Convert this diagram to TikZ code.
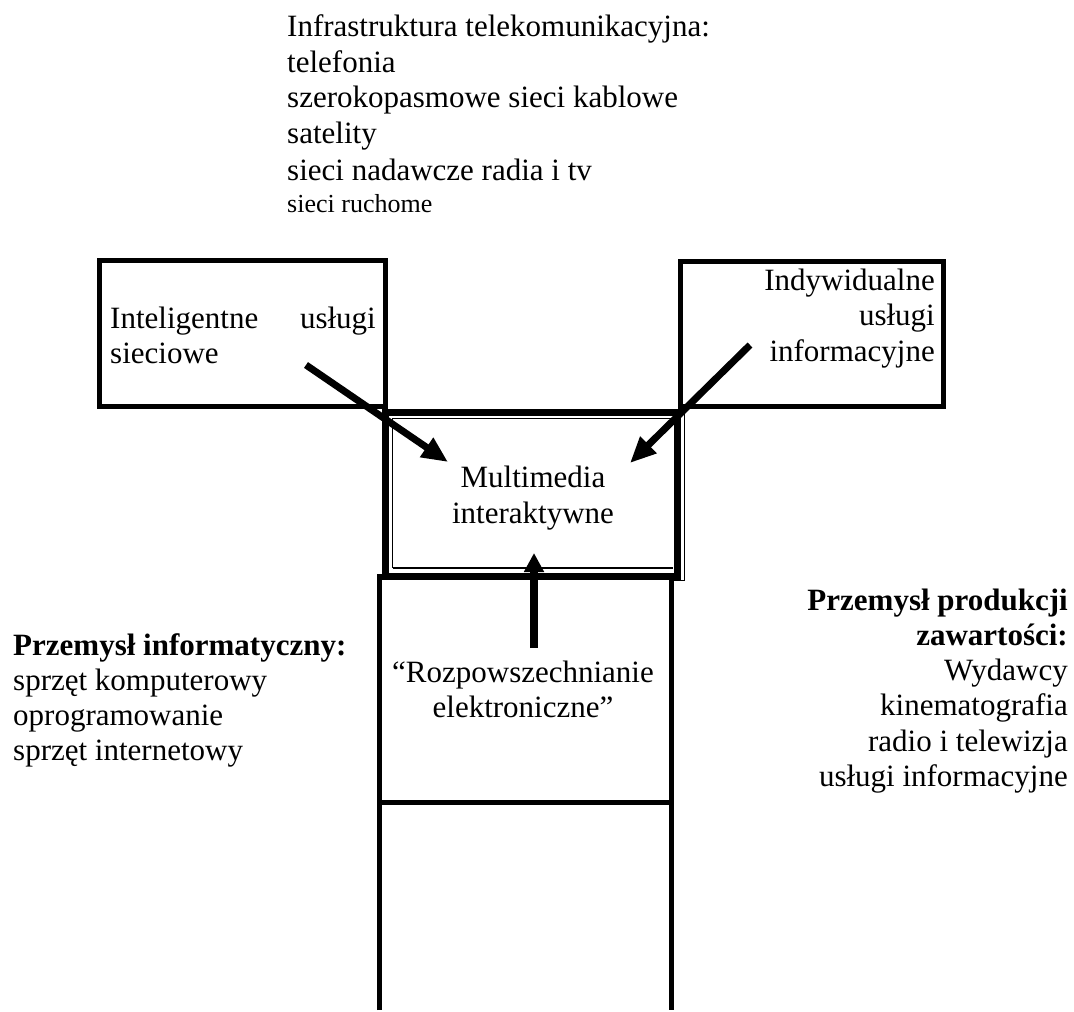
\documentclass[tikz,border=0pt]{standalone}
\usepackage{fontspec}
\setmainfont{Liberation Serif}
\usetikzlibrary{arrows.meta}
\begin{document}
\begin{tikzpicture}[x=1pt,y=-1pt,
  txt/.style={inner sep=0pt, font=\fontsize{31}{35}\selectfont},
  txtb/.style={inner sep=0pt, font=\fontsize{31}{35}\selectfont\bfseries},
  txts/.style={inner sep=0pt, font=\fontsize{26}{30}\selectfont},
  sidebox/.style={draw, line width=5pt, inner sep=0pt},
  mainbox/.style={draw, line width=7pt, inner sep=0pt},
  thinln/.style={line width=1.3pt},
  frameln/.style={line width=5pt},
  arr/.style={line width=7pt, -{Triangle[length=26pt,width=22pt]}},
  arrv/.style={line width=8pt, -{Triangle[length=19pt,width=19pt]}}]
\useasboundingbox (0,0) rectangle (1074,1012);
\fill[white] (0,0) rectangle (1074,1012);

% top block
\node[txt, anchor=base west] (t1) at (287,36) {Infrastruktura telekomunikacyjna:};
\node[txt, anchor=base west] (t2) at (287,72) {telefonia};
\node[txt, anchor=base west] (t3) at (287,107) {szerokopasmowe sieci kablowe};
\node[txt, anchor=base west] (t4) at (287,143) {satelity};
\node[txt, anchor=base west] (t5) at (287,180) {sieci nadawcze radia i tv};
\node[txts, anchor=base west] (t6) at (287,212) {sieci ruchome};

% left box
\node[sidebox, minimum width=285.5pt, minimum height=145.5pt] (lbox) at (242.25,333.25) {};
\node[txt, anchor=base west] (l1) at (110,328) {Inteligentne};
\node[txt, anchor=base east] (l2) at (376,328) {usługi};
\node[txt, anchor=base west] (l3) at (110,363) {sieciowe};

% right box
\node[sidebox, minimum width=262.5pt, minimum height=145pt] (rbox) at (811.75,333.5) {};
\node[txt, anchor=base east] (r1) at (935,290) {Indywidualne};
\node[txt, anchor=base east] (r2) at (935,325.5) {usługi};
\node[txt, anchor=base east] (r3) at (935,361) {informacyjne};

% lower frame
\draw[frameln] (379,1010) -- (379,576) -- (671,576) -- (671,1010);
\draw[frameln] (379,802.5) -- (671,802.5);

% centre box
\node[mainbox, minimum width=292pt, minimum height=164pt] (cbox) at (531.75,494) {};
\draw[thinln] (392.5,568) -- (392.5,418.5) -- (673,418.5);
\draw[thinln] (392.5,568) -- (673,568);
\draw[thinln] (684.5,413) -- (684.5,580.5) -- (671,580.5);
\node[txt, anchor=base] (m1) at (533,487) {Multimedia};
\node[txt, anchor=base] (m2) at (533,523) {interaktywne};

% lower frame text
\node[txt, anchor=base] (e1) at (523,682) {“Rozpowszechnianie};
\node[txt, anchor=base] (e2) at (523,717) {elektroniczne”};

% left industry
\node[txtb, anchor=base west] (p1) at (13,655) {Przemysł informatyczny:};
\node[txt, anchor=base west] (p2) at (13,690) {sprzęt komputerowy};
\node[txt, anchor=base west] (p3) at (13,725) {oprogramowanie};
\node[txt, anchor=base west] (p4) at (13,760) {sprzęt internetowy};

% right industry
\node[txtb, anchor=base east] (q1) at (1068,610) {Przemysł produkcji};
\node[txtb, anchor=base east] (q2) at (1068,645) {zawartości:};
\node[txt, anchor=base east] (q3) at (1068,680) {Wydawcy};
\node[txt, anchor=base east] (q4) at (1068,715) {kinematografia};
\node[txt, anchor=base east] (q5) at (1068,751) {radio i telewizja};
\node[txt, anchor=base east] (q6) at (1068,786) {usługi informacyjne};

% arrows
\coordinate (a1s) at (306,365);
\coordinate (a1e) at (448,462);
\coordinate (a2s) at (750,345);
\coordinate (a2e) at (630,463);
\coordinate (a3s) at (534,648);
\coordinate (a3e) at (534,553);
\draw[arr] (a1s) -- (a1e);
\draw[arr] (a2s) -- (a2e);
\draw[arrv] (a3s) -- (a3e);
\end{tikzpicture}
\end{document}
